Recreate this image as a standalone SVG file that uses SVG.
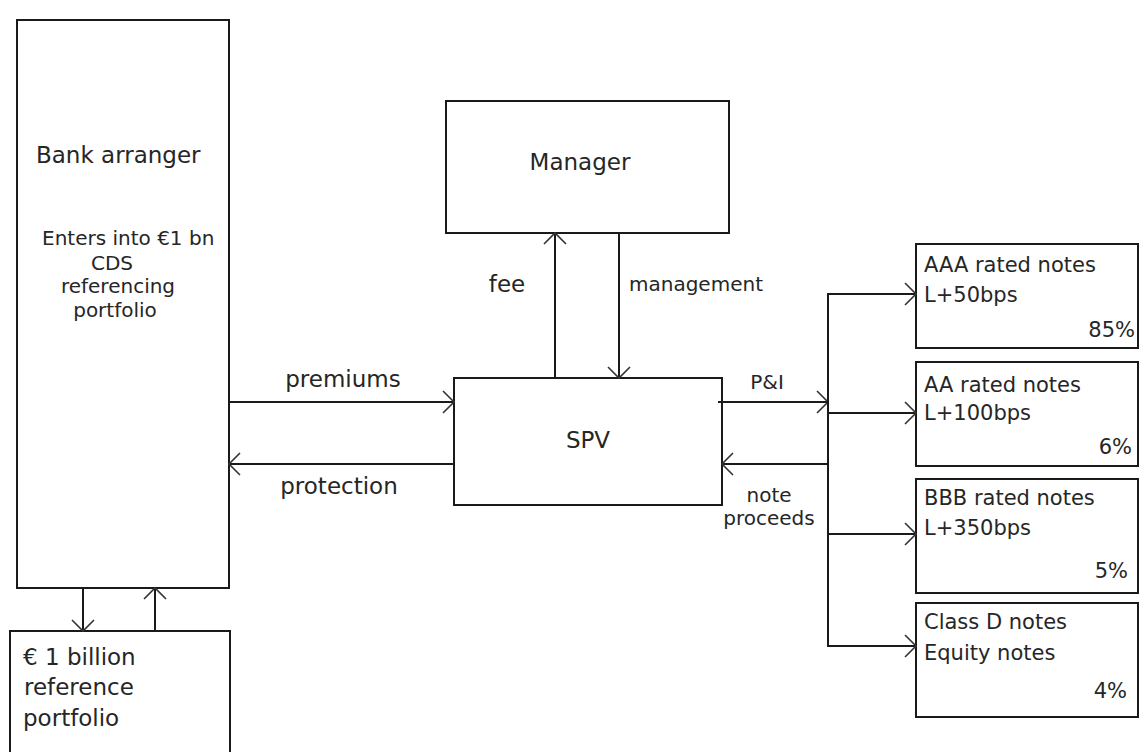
<svg xmlns="http://www.w3.org/2000/svg" width="1140" height="752" viewBox="0 0 1140 752">
<style>
.box{fill:#fff;stroke:#1a1a1a;stroke-width:2}
.ln{fill:none;stroke:#1a1a1a;stroke-width:2}
text{font-family:"DejaVu Sans","Liberation Sans",sans-serif;fill:#262626}
.l{font-size:23px}
.m{font-size:20px}
.t{font-size:21px}
.c{text-anchor:middle}
.r{text-anchor:end}
</style>
<defs>
<marker id="ah" markerUnits="userSpaceOnUse" markerWidth="30" markerHeight="30" viewBox="-15 -15 30 30" refX="0" refY="0" orient="auto">
<path d="M-11,-11 L0,0 L-11,11" fill="none" stroke="#333" stroke-width="1.6"/>
</marker>
</defs>
<rect width="1140" height="752" fill="#fff"/>
<g id="bank">
<rect class="box" x="17" y="20" width="212" height="568"/>
<text class="l" x="36" y="163">Bank arranger</text>
<text class="m" x="42" y="245">Enters into €1 bn</text>
<text class="m c" x="112" y="270">CDS</text>
<text class="m c" x="118" y="293">referencing</text>
<text class="m c" x="115" y="317">portfolio</text>
</g>
<g id="refport">
<rect class="box" x="10" y="631" width="220" height="140"/>
<text class="l" x="23" y="665">€ 1 billion</text>
<text class="l" x="24" y="695">reference</text>
<text class="l" x="23" y="726">portfolio</text>
</g>
<g id="manager">
<rect class="box" x="446" y="101" width="283" height="132"/>
<text class="l c" x="580" y="170">Manager</text>
</g>
<g id="spv">
<rect class="box" x="454" y="378" width="268" height="127"/>
<text class="l c" x="588" y="448">SPV</text>
</g>
<g id="aaa">
<rect class="box" x="916" y="244" width="222" height="104"/>
<text class="t" x="924" y="272">AAA rated notes</text>
<text class="t" x="924" y="302">L+50bps</text>
<text class="t r" x="1135" y="337">85%</text>
</g>
<g id="aa">
<rect class="box" x="916" y="362" width="222" height="104"/>
<text class="t" x="924" y="392">AA rated notes</text>
<text class="t" x="924" y="420">L+100bps</text>
<text class="t r" x="1132" y="454">6%</text>
</g>
<g id="bbb">
<rect class="box" x="916" y="479" width="222" height="114"/>
<text class="t" x="924" y="505">BBB rated notes</text>
<text class="t" x="924" y="535">L+350bps</text>
<text class="t r" x="1128" y="578">5%</text>
</g>
<g id="classd">
<rect class="box" x="916" y="603" width="222" height="114"/>
<text class="t" x="924" y="629">Class D notes</text>
<text class="t" x="924" y="660">Equity notes</text>
<text class="t r" x="1127" y="698">4%</text>
</g>
<g id="connectors">
<line class="ln" x1="83" y1="588" x2="83" y2="631" marker-end="url(#ah)"/>
<line class="ln" x1="155" y1="631" x2="155" y2="588" marker-end="url(#ah)"/>
<line class="ln" x1="229" y1="402" x2="454" y2="402" marker-end="url(#ah)"/>
<line class="ln" x1="454" y1="464" x2="229" y2="464" marker-end="url(#ah)"/>
<line class="ln" x1="555" y1="378" x2="555" y2="233" marker-end="url(#ah)"/>
<line class="ln" x1="619" y1="233" x2="619" y2="378" marker-end="url(#ah)"/>
<line class="ln" x1="718" y1="402" x2="828" y2="402" marker-end="url(#ah)"/>
<line class="ln" x1="828" y1="464" x2="722" y2="464" marker-end="url(#ah)"/>
<line class="ln" x1="828" y1="294" x2="828" y2="647"/>
<line class="ln" x1="827" y1="294" x2="916" y2="294" marker-end="url(#ah)"/>
<line class="ln" x1="827" y1="413" x2="916" y2="413" marker-end="url(#ah)"/>
<line class="ln" x1="827" y1="534" x2="916" y2="534" marker-end="url(#ah)"/>
<line class="ln" x1="827" y1="646" x2="916" y2="646" marker-end="url(#ah)"/>
<text class="l c" x="343" y="387">premiums</text>
<text class="l c" x="339" y="494">protection</text>
<text class="l c" x="507" y="292">fee</text>
<text class="m" x="629" y="291">management</text>
<text class="m c" x="767" y="389">P&amp;I</text>
<text class="m c" x="769" y="502">note</text>
<text class="m c" x="769" y="525">proceeds</text>
</g>
</svg>
